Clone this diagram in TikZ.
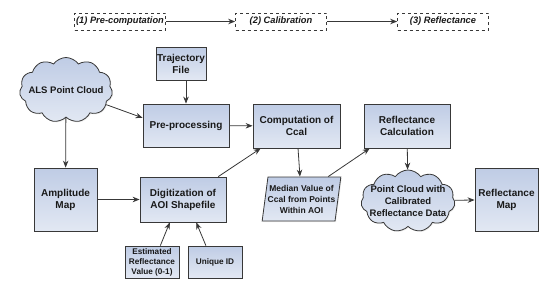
\documentclass[tikz,border=0pt]{standalone}
\usepackage{fontspec}
\setmainfont{Liberation Sans}
\usetikzlibrary{arrows.meta,shapes.geometric,shapes.symbols,shadows}
\definecolor{boxdark}{HTML}{BFCCE5}
\definecolor{boxlight}{HTML}{E2E8F3}
\definecolor{edge}{HTML}{383838}

\begin{document}
\begin{tikzpicture}[x=1pt,y=-1pt,>={Stealth[length=7pt,width=5.5pt]},
    every node/.style={font=\fontsize{10}{12}\selectfont\bfseries,text=black!90},
    block/.style={draw=edge,line width=0.8pt,top color=boxdark,bottom color=boxlight,
      drop shadow={opacity=0.15,shadow xshift=1pt,shadow yshift=-1pt},align=center,inner sep=1pt},
    cloudy/.style={block,shape=cloud,cloud puffs=11,cloud puff arc=110,aspect=1.4},
    small/.style={font=\fontsize{8.2}{10}\selectfont\bfseries},
    phase/.style={draw=edge,dashed,line width=0.7pt,fill=white,minimum width=91pt,minimum height=17pt,
      font=\fontsize{9.3}{11}\selectfont\bfseries\itshape,inner sep=1pt},
    link/.style={->,draw=edge,line width=0.8pt}]
  \useasboundingbox (0,0) rectangle (550,293);
  \node[phase] (p1) at (120,21.5) {(1) Pre-computation};
  \node[phase] (p2) at (281,21.5) {(2) Calibration};
  \node[phase] (p3) at (443,21.5) {(3) Reflectance};
  \draw[link] (p1) -- (p2);
  \draw[link] (p2) -- (p3);
  \node[cloudy,minimum width=93pt,minimum height=65pt,
    label={[font=\fontsize{9.5}{11}\selectfont\bfseries]center:ALS Point Cloud}] (als) at (66,90) {};
  \node[block,minimum width=44pt,minimum height=33pt] (traj) at (181,63.5) {Trajectory\\File};
  \node[block,minimum width=86pt,minimum height=43pt] (pre) at (186,125.5) {Pre-processing};
  \node[block,minimum width=87pt,minimum height=44pt] (comp) at (296.5,126) {Computation of\\Ccal};
  \node[block,minimum width=86pt,minimum height=44pt] (refcalc) at (407,126) {Reflectance\\Calculation};
  \node[block,minimum width=63pt,minimum height=63pt] (amp) at (65.5,199.5) {Amplitude\\Map};
  \node[block,minimum width=86pt,minimum height=45pt] (dig) at (183,199.5) {Digitization of\\AOI Shapefile};
  \node[block,shape=trapezium,trapezium left angle=80,trapezium right angle=100,trapezium stretches=true,
    minimum width=79pt,minimum height=44pt,inner xsep=-3pt,font=\fontsize{8.5}{11}\selectfont\bfseries] (median) at (301.5,199)
    {Median Value of\\Ccal from Points\\Within AOI};
  \node[cloudy,minimum width=94pt,minimum height=62pt,
    label={[align=center,font=\fontsize{9.5}{12}\selectfont\bfseries]center:Point Cloud with\\Calibrated\\Reflectance Data}] (calcloud) at (408,201) {};
  \node[block,minimum width=63pt,minimum height=63pt] (refmap) at (506.5,199.5) {Reflectance\\Map};
  \node[block,small,minimum width=54pt,minimum height=32pt] (estval) at (152,262)
    {Estimated\\Reflectance\\Value (0-1)};
  \node[block,small,minimum width=54pt,minimum height=32pt] (uid) at (215,262) {Unique ID};
  \draw[link] (als.-20) -- (pre.170);
  \draw[link] (pre.north |- traj.south) -- (pre.north);
  \draw[link] (pre) -- (comp);
  \draw[link] (als) -- (amp);
  \draw[link] (amp) -- (dig);
  \draw[link] (dig.33) -- (comp.212);
  \draw[link] (comp) -- (median);
  \draw[link] (median.40) -- (refcalc.211);
  \draw[link] (refcalc) -- (calcloud);
  \draw[link] (calcloud) -- (refmap);
  \draw[link] (estval.63) -- (dig.-120);
  \draw[link] (uid.119) -- (dig.-60);
\end{tikzpicture}
\end{document}
